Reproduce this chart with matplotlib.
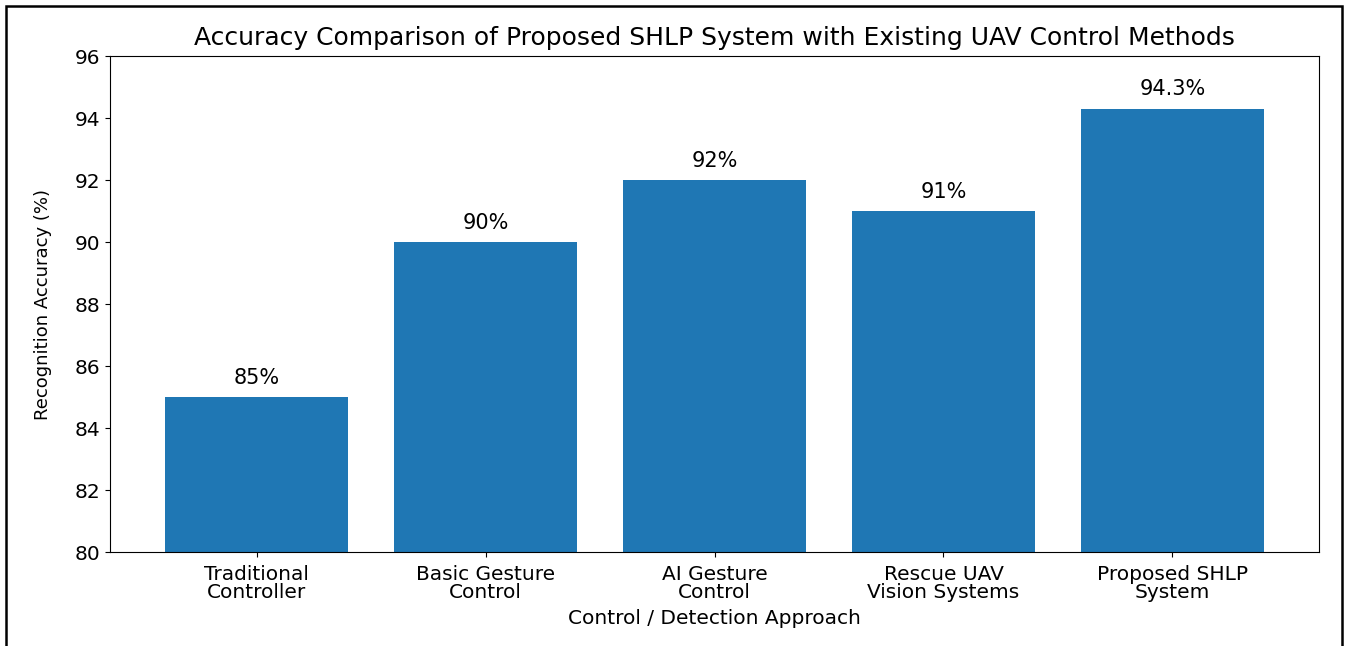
import matplotlib
matplotlib.use("Agg")
import matplotlib.pyplot as plt
from matplotlib.patches import Rectangle

categories = ["Traditional\nController", "Basic Gesture\nControl", "AI Gesture\nControl",
              "Rescue UAV\nVision Systems", "Proposed SHLP\nSystem"]
accuracy = [85, 90, 92, 91, 94.3]
value_labels = ["85%", "90%", "92%", "91%", "94.3%"]

fig = plt.figure(figsize=(13.48, 6.46), dpi=100)
ax = fig.add_axes([0.0816, 0.1455, 0.8969, 0.7678])

x = range(len(categories))
ax.bar(x, accuracy, color="#1f77b4", width=0.8)
for i, v in enumerate(accuracy):
    ax.text(i, v + 0.3, value_labels[i], ha="center", va="bottom", fontsize=15)

ax.set_ylim(80, 96)
ax.set_xticks(list(x))
ax.set_xticklabels(categories, fontsize=14.5, linespacing=0.95)
ax.tick_params(axis="y", labelsize=14.5)
ax.tick_params(axis="x", pad=6)
ax.set_ylabel("Recognition Accuracy (%)", fontsize=13, labelpad=16)
ax.set_xlabel("Control / Detection Approach", fontsize=14.5, labelpad=5)
ax.set_title("Accuracy Comparison of Proposed SHLP System with Existing UAV Control Methods",
             fontsize=18, pad=8)

# outer frame of the screenshot
fig.patches.append(Rectangle((6 / 1348, -0.05), (1342 - 6) / 1348, 1 - 6 / 646 + 0.05,
                             transform=fig.transFigure, fill=False, edgecolor="black",
                             linewidth=1.8))

fig.savefig("out.png", dpi=100)
